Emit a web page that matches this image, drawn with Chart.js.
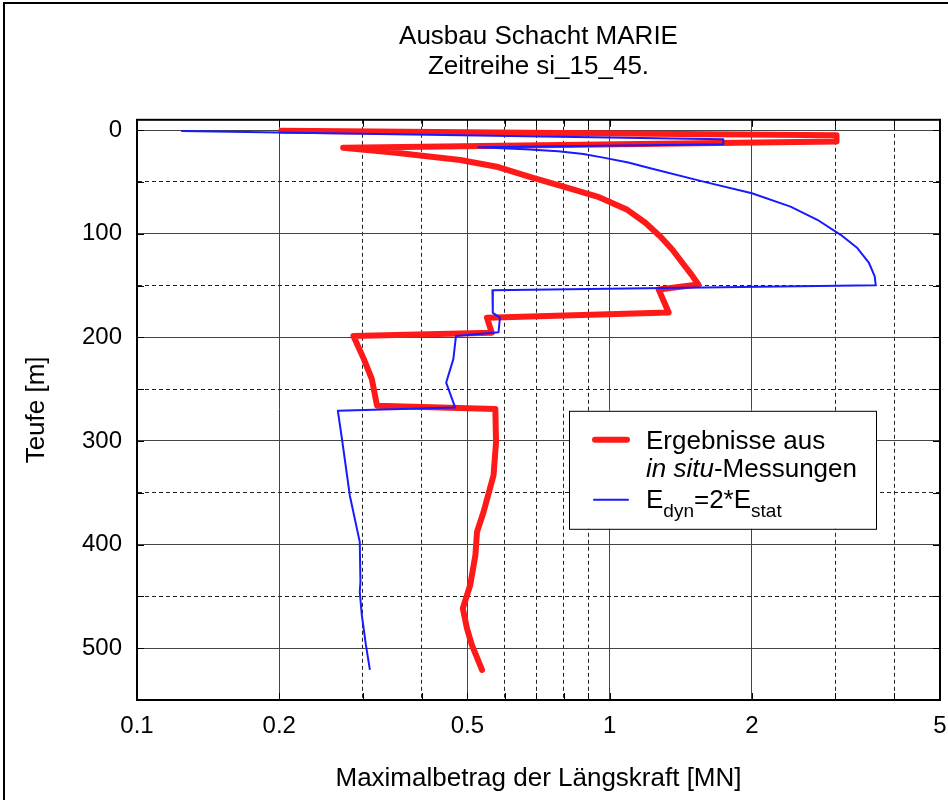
<!DOCTYPE html>
<html>
<head>
<meta charset="utf-8">
<title>Ausbau Schacht MARIE</title>
<script src="https://cdn.jsdelivr.net/npm/chart.js@4.4.0/dist/chart.umd.min.js"></script>
<style>
    html, body { margin: 0; padding: 0; background: #fff; }
</style>
</head>
<body>
<canvas id="chart" width="948" height="800"></canvas>
<script>
'use strict';

const titleLines = ['Ausbau Schacht MARIE', 'Zeitreihe si_15_45.'];
const xTitle = 'Maximalbetrag der Längskraft [MN]';
const yTitle = 'Teufe [m]';

// x grid (log) and which of them get a label / solid line
const xGridValues = [0.1, 0.2, 0.3, 0.4, 0.5, 0.6, 0.7, 0.8, 0.9, 1, 2, 3, 4, 5];
const xLabelValues = [0.1, 0.2, 0.5, 1, 2, 5];
const yGridValues = [0, 50, 100, 150, 200, 250, 300, 350, 400, 450, 500, 550];

// Ergebnisse aus in situ-Messungen
const redForce = [0.202, 3.02, 3.02, 0.273, 0.353, 0.483, 0.581, 0.686, 0.802, 0.942, 1.09, 1.19,
    1.28, 1.358, 1.426, 1.49, 1.541,
    1.27, 1.333, 0.55, 0.563, 0.287, 0.302, 0.314, 0.322, 0.573, 0.575, 0.568, 0.541, 0.524, 0.52,
    0.507, 0.489, 0.499, 0.511, 0.537];
const redDepth = [0.5, 5, 11, 17, 21.8, 28.8, 35.6, 45.9, 54.8, 64.1, 76.9, 89.4,
    102.6, 115.4, 128.2, 139.4, 149,
    153.8, 176, 181, 195.5, 198.7, 221, 240.4, 266, 269.2, 301, 333, 368.6, 387.8, 410,
    439, 461.5, 480.8, 496.8, 520.9];

// Edyn = 2*Estat
const blueForce = [0.124, 1.74, 1.74, 0.527, 0.663, 0.778, 0.88, 0.97, 1.095, 1.219, 1.579, 2.0, 2.414,
    2.751, 3.082, 3.343, 3.538, 3.638, 3.656,
    0.565, 0.566, 0.586, 0.582, 0.473, 0.467, 0.451, 0.471, 0.266, 0.272, 0.282,
    0.296, 0.297, 0.296, 0.299, 0.305, 0.311];
const blueDepth = [0.7, 8.7, 13.5, 16.6, 18.5, 20.4, 23.1, 26.5, 31.3, 36.8, 49.7, 60.9, 73.8,
    86.5, 101, 113.8, 128.2, 141.1, 149.7,
    154.5, 176.3, 181, 195, 198.7, 221, 243.6, 267.6, 270.8, 301, 352.6,
    397.4, 436, 445.5, 468, 496.8, 520.9];

const FONT = 'Liberation Sans, Arial, Helvetica, sans-serif';
const RED = '#ff1a1a';
const BLUE = '#1a1aff';

function toPoints(xs, ys) {
    return xs.map((x, i) => ({ x: x, y: ys[i] }));
}

function isMajorX(v) {
    return xLabelValues.some(l => Math.abs(l - v) < 1e-9);
}
function isMajorY(v) {
    return v % 100 === 0;
}

// white page, plot frame with inward ticks, outer page frame
const framePlugin = {
    id: 'frame',
    beforeDraw(chart) {
        const ctx = chart.ctx;
        ctx.save();
        ctx.fillStyle = '#fff';
        ctx.fillRect(0, 0, chart.width, chart.height);
        ctx.restore();
    },
    afterDatasetsDraw(chart) {
        const { ctx, chartArea, scales } = chart;
        const tl = 7;
        ctx.save();
        ctx.strokeStyle = '#000';
        ctx.lineWidth = 1;
        ctx.beginPath();
        xGridValues.forEach(v => {
            const px = Math.round(scales.x.getPixelForValue(v)) + 0.5;
            ctx.moveTo(px, chartArea.bottom);
            ctx.lineTo(px, chartArea.bottom - tl);
            ctx.moveTo(px, chartArea.top);
            ctx.lineTo(px, chartArea.top + tl);
        });
        yGridValues.forEach(v => {
            const py = Math.round(scales.y.getPixelForValue(v)) + 0.5;
            ctx.moveTo(chartArea.left, py);
            ctx.lineTo(chartArea.left + tl, py);
            ctx.moveTo(chartArea.right, py);
            ctx.lineTo(chartArea.right - tl, py);
        });
        ctx.stroke();
        ctx.restore();
    },
    afterDraw(chart) {
        const { ctx, chartArea } = chart;
        ctx.save();
        ctx.strokeStyle = '#000';
        ctx.lineWidth = 2;
        ctx.setLineDash([]);
        ctx.strokeRect(chartArea.left, chartArea.top, chartArea.right - chartArea.left, chartArea.bottom - chartArea.top);
        // page frame (left + top visible)
        ctx.strokeRect(4, 3, chart.width + 10, chart.height + 10);
        ctx.restore();
    }
};

// legend box with italic and subscript text
const legendPlugin = {
    id: 'boxLegend',
    afterDraw(chart) {
        const { ctx, chartArea } = chart;
        const x0 = chartArea.left + 432;
        const y0 = chartArea.top + 291;
        const w = 307, h = 118;
        const ds = chart.data.datasets;
        ctx.save();
        ctx.fillStyle = '#fff';
        ctx.fillRect(x0, y0, w, h);
        ctx.strokeStyle = '#000';
        ctx.lineWidth = 1;
        ctx.strokeRect(x0 + 0.5, y0 + 0.5, w, h);

        ctx.lineCap = 'round';
        ctx.strokeStyle = ds[0].borderColor;
        ctx.lineWidth = ds[0].borderWidth;
        ctx.beginPath();
        ctx.moveTo(x0 + 26, y0 + 29);
        ctx.lineTo(x0 + 58, y0 + 29);
        ctx.stroke();

        ctx.strokeStyle = ds[1].borderColor;
        ctx.lineWidth = ds[1].borderWidth;
        ctx.beginPath();
        ctx.moveTo(x0 + 25, y0 + 89);
        ctx.lineTo(x0 + 59, y0 + 89);
        ctx.stroke();

        ctx.fillStyle = '#000';
        ctx.textBaseline = 'alphabetic';
        ctx.textAlign = 'left';
        const tx = x0 + 77;
        ctx.font = '26px ' + FONT;
        ctx.fillText('Ergebnisse aus', tx, y0 + 38);
        ctx.font = 'italic 26px ' + FONT;
        ctx.fillText('in situ', tx, y0 + 66);
        let off = ctx.measureText('in situ').width;
        ctx.font = '26px ' + FONT;
        ctx.fillText('-Messungen', tx + off, y0 + 66);

        let cx = tx;
        const base = y0 + 97;
        ctx.font = '26px ' + FONT;
        ctx.fillText('E', cx, base);
        cx += ctx.measureText('E').width;
        ctx.font = '19px ' + FONT;
        ctx.fillText('dyn', cx, base + 9);
        cx += ctx.measureText('dyn').width;
        ctx.font = '26px ' + FONT;
        ctx.fillText('=2*E', cx, base);
        cx += ctx.measureText('=2*E').width;
        ctx.font = '19px ' + FONT;
        ctx.fillText('stat', cx, base + 9);
        ctx.restore();
    }
};

new Chart(document.getElementById('chart'), {
    type: 'scatter',
    data: {
        datasets: [
            {
                label: 'Ergebnisse aus in situ-Messungen',
                data: toPoints(redForce, redDepth),
                showLine: true,
                borderColor: RED,
                backgroundColor: RED,
                borderWidth: 6,
                pointRadius: 0,
                borderJoinStyle: 'round',
                borderCapStyle: 'round',
                tension: 0,
                order: 1,
            },
            {
                label: 'Edyn=2*Estat',
                data: toPoints(blueForce, blueDepth),
                showLine: true,
                borderColor: BLUE,
                backgroundColor: BLUE,
                borderWidth: 2,
                pointRadius: 0,
                borderJoinStyle: 'round',
                tension: 0,
                order: 0,
            },
        ],
    },
    options: {
        responsive: false,
        animation: false,
        layout: { padding: { left: 0, right: 8, top: 0, bottom: 0 } },
        plugins: {
            legend: { display: false },
            tooltip: { enabled: false },
            title: {
                display: true,
                fullSize: false,
                text: titleLines,
                color: '#000',
                font: { family: FONT, size: 26, weight: 'normal', lineHeight: 1.15 },
                padding: { top: 22, bottom: 38 },
            },
        },
        scales: {
            x: {
                type: 'logarithmic',
                position: 'bottom',
                min: 0.1,
                max: 5,
                afterBuildTicks: axis => { axis.ticks = xGridValues.map(v => ({ value: v })); },
                afterFit: axis => { axis.height = 100; },
                ticks: {
                    autoSkip: false,
                    maxRotation: 0,
                    padding: 0,
                    color: '#000',
                    font: { family: FONT, size: 24 },
                    callback: v => isMajorX(v) ? String(v) : '',
                },
                grid: {
                    drawTicks: true,
                    tickLength: 12,
                    tickColor: 'rgba(0,0,0,0)',
                    lineWidth: 1,
                    color: c => (c.tick && isMajorX(c.tick.value)) ? '#444' : '#222',
                },
                border: {
                    color: '#000',
                    width: 2,
                    dash: c => (c.tick && !isMajorX(c.tick.value)) ? [4, 3] : [],
                },
                title: {
                    display: true,
                    text: xTitle,
                    color: '#000',
                    font: { family: FONT, size: 26 },
                    padding: 6,
                },
            },
            y: {
                type: 'linear',
                reverse: true,
                min: -10,
                max: 550,
                afterBuildTicks: axis => { axis.ticks = yGridValues.map(v => ({ value: v })); },
                afterFit: axis => { axis.width = 137; },
                ticks: {
                    autoSkip: false,
                    padding: 15,
                    color: '#000',
                    font: { family: FONT, size: 24 },
                    callback: v => isMajorY(v) ? String(v) : '',
                },
                grid: {
                    drawTicks: false,
                    lineWidth: 1,
                    color: c => (c.tick && isMajorY(c.tick.value)) ? '#444' : '#222',
                },
                border: {
                    color: '#000',
                    width: 2,
                    dash: c => (c.tick && !isMajorY(c.tick.value)) ? [4, 3] : [],
                },
                title: {
                    display: true,
                    text: yTitle,
                    color: '#000',
                    font: { family: FONT, size: 26 },
                    padding: 21,
                },
            },
        },
    },
    plugins: [framePlugin, legendPlugin],
});
</script>
</body>
</html>
